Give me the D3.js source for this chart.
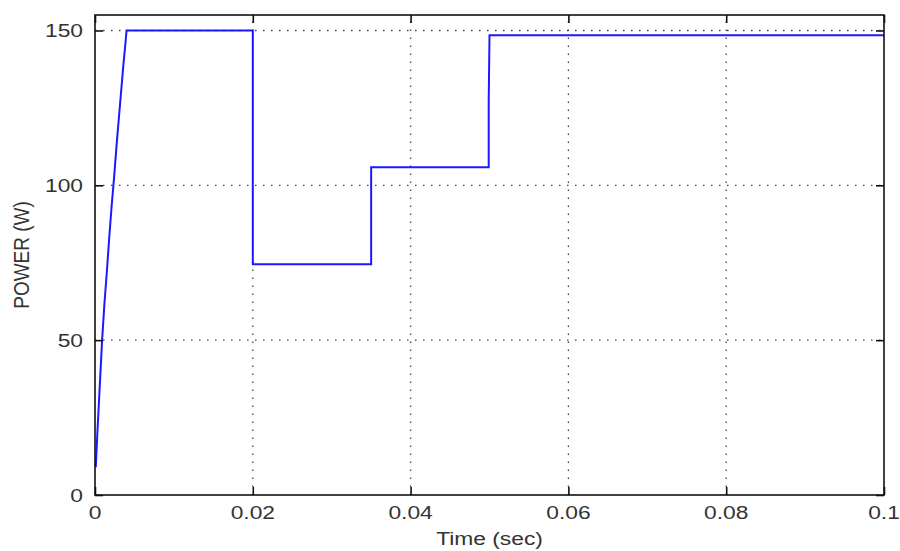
<!DOCTYPE html>
<html>
<head>
<meta charset="utf-8">
<script src="https://cdn.jsdelivr.net/npm/d3@7"></script>
<style>
  html, body { margin: 0; padding: 0; background: #fff; }
  svg { display: block; }
  text { font-family: "Liberation Sans", Arial, sans-serif; fill: #333; }
</style>
</head>
<body>
<div id="chart"></div>
<script>
// ---- data ----
const timeSec = [0.0001, 0.0003, 0.0005, 0.0007, 0.0009, 0.0012, 0.0015, 0.0018, 0.0021, 0.0024, 0.0028, 0.0032, 0.0036, 0.0039, 0.0040,
                 0.0200, 0.0200, 0.0350, 0.0350, 0.0499, 0.0499, 0.0500, 0.1000];
const powerW  = [9, 20, 30, 40, 50, 62, 72, 83, 93, 102, 115, 127, 139, 147, 150,
                 150, 74.5, 74.5, 105.8, 105.8, 127, 148.5, 148.5];
const xTicks = [0, 0.02, 0.04, 0.06, 0.08, 0.1];
const xTickLabels = ["0", "0.02", "0.04", "0.06", "0.08", "0.1"];
const yTicks = [0, 50, 100, 150];
const yTickLabels = ["0", "50", "100", "150"];
const xLabel = "Time (sec)";
const yLabel = "POWER (W)";

const W = 900, H = 551;
const m = { left: 95, right: 16, top: 15, bottom: 56 };
const svg = d3.select("#chart").append("svg").attr("width", W).attr("height", H);

const x = d3.scaleLinear().domain([0, 0.1]).range([m.left, W - m.right]);
const y = d3.scaleLinear().domain([0, 155]).range([H - m.bottom, m.top]);

const x0 = x.range()[0], x1 = x.range()[1], y0 = y.range()[0], y1 = y.range()[1];

// grid
const grid = svg.append("g").attr("stroke", "#444").attr("stroke-width", 1.3)
  .attr("stroke-dasharray", "1.5,6.5");
grid.selectAll("line.gx").data(xTicks.filter(d => d > 0 && d < 0.1)).join("line")
  .attr("x1", d => x(d)).attr("x2", d => x(d)).attr("y1", y0).attr("y2", y1);
grid.selectAll("line.gy").data(yTicks.filter(d => d > 0)).join("line")
  .attr("x1", x0).attr("x2", x1).attr("y1", d => y(d)).attr("y2", d => y(d));

// data line
svg.append("path")
  .datum(timeSec.map((t, i) => [t, powerW[i]]))
  .attr("fill", "none").attr("stroke", "#1a1aff").attr("stroke-width", 2)
  .attr("d", d3.line().x(d => x(d[0])).y(d => y(d[1])));

// axes via d3 (inward ticks)
const tickLen = 8;
const xAxisB = d3.axisBottom(x).tickValues(xTicks).tickSize(-tickLen).tickFormat("");
const xAxisT = d3.axisTop(x).tickValues(xTicks).tickSize(-tickLen).tickFormat("");
const yAxisL = d3.axisLeft(y).tickValues(yTicks).tickSize(-tickLen).tickFormat("");
const yAxisR = d3.axisRight(y).tickValues(yTicks).tickSize(-tickLen).tickFormat("");
function style(g) { g.selectAll("path,line").attr("stroke", "#111").attr("stroke-width", 1.6); g.select(".domain").remove(); }
svg.append("g").attr("transform", `translate(0,${y0})`).call(xAxisB).call(style);
svg.append("g").attr("transform", `translate(0,${y1})`).call(xAxisT).call(style);
svg.append("g").attr("transform", `translate(${x0},0)`).call(yAxisL).call(style);
svg.append("g").attr("transform", `translate(${x1},0)`).call(yAxisR).call(style);

// box
svg.append("rect").attr("x", x0).attr("y", y1).attr("width", x1 - x0).attr("height", y0 - y1)
  .attr("fill", "none").attr("stroke", "#111").attr("stroke-width", 1.6);

// tick labels (stretched horizontally like the reference)
const fs = 19, sx = 1.2;
svg.append("g").selectAll("text").data(xTicks).join("text")
  .attr("transform", d => `translate(${x(d)},${y0 + 24}) scale(${sx},1)`)
  .attr("text-anchor", "middle").attr("font-size", fs)
  .text((d, i) => xTickLabels[i]);
svg.append("g").selectAll("text").data(yTicks).join("text")
  .attr("transform", d => `translate(${x0 - 12},${y(d) + 7}) scale(${sx},1)`)
  .attr("text-anchor", "end").attr("font-size", fs)
  .text((d, i) => yTickLabels[i]);

// axis titles
svg.append("text").attr("transform", `translate(${(x0 + x1) / 2},${y0 + 50}) scale(${sx},1)`)
  .attr("text-anchor", "middle").attr("font-size", fs).text(xLabel);
svg.append("text").attr("transform", `translate(29,${(y0 + y1) / 2}) rotate(-90) scale(1,1.2)`)
  .attr("text-anchor", "middle").attr("font-size", 19).text(yLabel);
</script>
</body>
</html>
